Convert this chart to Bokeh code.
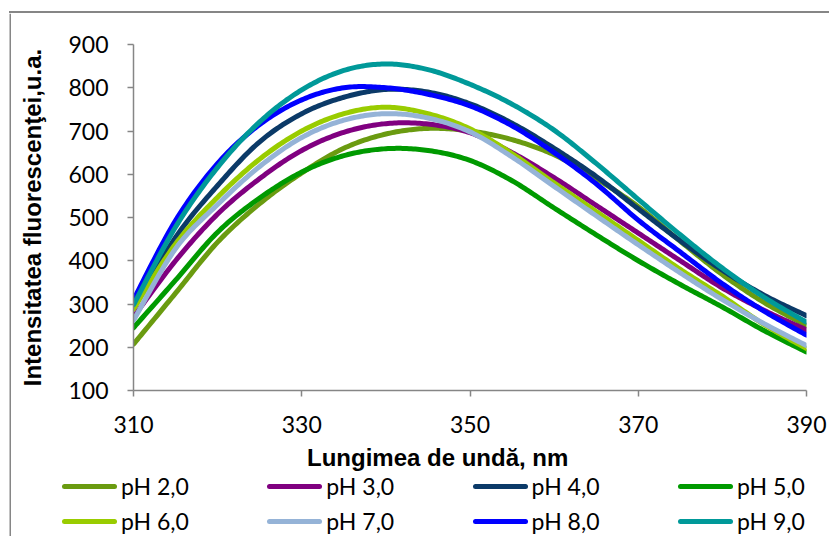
import numpy as np
from bokeh.plotting import figure
from bokeh.models import Range1d, FixedTicker, Div
from bokeh.layouts import column, row
from bokeh.embed import file_html
from bokeh.resources import INLINE

# wavelengths (nm)
wavelength = [310, 315, 320, 325, 330, 335, 340, 345, 350, 355, 360, 365, 370, 375, 380, 385, 390]

ph_2 = [207, 325, 443, 532, 603, 660, 693, 706, 700, 680, 645, 590, 525, 445, 368, 303, 250]
ph_3 = [270, 400, 508, 590, 655, 697, 717, 716, 696, 650, 592, 528, 464, 400, 337, 285, 240]
ph_4 = [290, 454, 574, 675, 740, 778, 796, 790, 763, 718, 660, 595, 520, 446, 378, 320, 273]
ph_5 = [245, 355, 466, 545, 605, 643, 659, 655, 632, 585, 522, 460, 400, 345, 293, 238, 189]
ph_6 = [288, 439, 547, 635, 700, 740, 755, 740, 705, 648, 580, 514, 447, 380, 318, 252, 197]
ph_7 = [262, 428, 530, 618, 685, 725, 740, 730, 698, 640, 572, 504, 437, 372, 310, 254, 204]
ph_8 = [310, 493, 625, 715, 772, 800, 800, 785, 758, 712, 650, 578, 494, 420, 347, 283, 228]
ph_9 = [298, 478, 616, 721, 795, 840, 855, 842, 808, 762, 702, 625, 542, 460, 383, 315, 258]

labels = ["pH 2,0", "pH 3,0", "pH 4,0", "pH 5,0", "pH 6,0", "pH 7,0", "pH 8,0", "pH 9,0"]
series = [ph_2, ph_3, ph_4, ph_5, ph_6, ph_7, ph_8, ph_9]
colors = ["#6A9B10", "#800080", "#0B3A68", "#009A00", "#99CC00", "#95B3D7", "#0000FF", "#009999"]

x_ticks = [310, 330, 350, 370, 390]
y_ticks = [100, 200, 300, 400, 500, 600, 700, 800, 900]

x_title = "Lungimea de undă, nm"
y_title = "Intensitatea fluorescenţei,u.a."


def smooth(xs, ys, n=20):
    """Catmull-Rom smoothing (like a spreadsheet 'smoothed line')."""
    xs = np.asarray(xs, float)
    ys = np.asarray(ys, float)
    m = len(xs)
    ox, oy = [], []
    for i in range(m - 1):
        i0, i1, i2, i3 = max(i - 1, 0), i, i + 1, min(i + 2, m - 1)
        for t in np.linspace(0, 1, n, endpoint=False):
            t2, t3 = t * t, t * t * t

            def cr(a0, a1, a2, a3):
                return 0.5 * ((2 * a1) + (-a0 + a2) * t + (2 * a0 - 5 * a1 + 4 * a2 - a3) * t2
                              + (-a0 + 3 * a1 - 3 * a2 + a3) * t3)
            ox.append(cr(xs[i0], xs[i1], xs[i2], xs[i3]))
            oy.append(cr(ys[i0], ys[i1], ys[i2], ys[i3]))
    ox.append(xs[-1])
    oy.append(ys[-1])
    return ox, oy


AX = "#868686"
W = 829
TOP_H, LEFT_W = 13, 11
MAIN_H, LEG_H = 430, 93

# ---- top edge of the chart-area border
top = Div(width=W, height=TOP_H, margin=0,
          text=(f'<div style="position:relative;width:{W}px;height:{TOP_H}px;">'
                f'<div style="position:absolute;left:9px;top:11px;width:{W - 9}px;height:2px;'
                f'background:{AX};"></div></div>'))

# ---- left edge of the chart-area border
left = figure(width=LEFT_W, height=MAIN_H + LEG_H, output_backend="svg", toolbar_location=None,
              x_range=Range1d(0, LEFT_W), y_range=Range1d(0, MAIN_H + LEG_H),
              x_axis_location=None, y_axis_location=None,
              min_border=0, min_border_left=0, min_border_right=0,
              min_border_top=0, min_border_bottom=0)
left.outline_line_color = None
left.xgrid.visible = False
left.ygrid.visible = False
left.segment(x0=[LEFT_W - 1], y0=[0], x1=[LEFT_W - 1], y1=[MAIN_H + LEG_H],
             line_color=AX, line_width=2)

# ---- main plot
p = figure(width=W - LEFT_W, height=MAIN_H, output_backend="svg", toolbar_location=None,
           x_range=Range1d(310, 390), y_range=Range1d(100, 900),
           min_border_left=122, min_border_right=23, min_border_top=31, min_border_bottom=53)
p.outline_line_color = None
p.background_fill_color = "white"
p.border_fill_color = "white"
p.xgrid.visible = False
p.ygrid.visible = False

for ax in (p.xaxis[0], p.yaxis[0]):
    ax.axis_line_color = AX
    ax.axis_line_width = 1.5
    ax.major_tick_line_color = AX
    ax.major_tick_line_width = 1.5
    ax.major_tick_in = 0
    ax.major_tick_out = 6
    ax.minor_tick_line_color = None
    ax.major_label_text_font = "Lato"
    ax.major_label_text_font_size = "23px"
    ax.major_label_text_color = "black"
    ax.axis_label_text_font = "Liberation Sans"
    ax.axis_label_text_font_style = "bold"
    ax.axis_label_text_font_size = "24px"
    ax.axis_label_text_color = "black"

p.xaxis.ticker = FixedTicker(ticks=x_ticks)
p.yaxis.ticker = FixedTicker(ticks=y_ticks)
p.yaxis.axis_label = y_title
p.xaxis.major_label_standoff = 19
p.yaxis.major_label_standoff = 19
p.yaxis.axis_label_standoff = 19

for ys, col in zip(series, colors):
    sx, sy = smooth(wavelength, ys)
    p.line(sx, sy, line_color=col, line_width=5, line_cap="round", line_join="round")

# ---- bottom area: x-axis title and legend (two rows of four entries)
parts = [f'<div style="position:relative;width:{W - LEFT_W}px;height:{LEG_H}px;overflow:hidden;'
         f'color:black;">',
         f'<div style="position:absolute;left:296px;top:3px;white-space:nowrap;'
         f'font-family:\'Liberation Sans\';font-weight:bold;font-size:24px;line-height:24px;">'
         f'{x_title}</div>']
for i, (lab, col) in enumerate(zip(labels, colors)):
    c, r = i % 4, i // 4
    x0 = 51 + c * 205.3
    yc = 43.7 + r * 35
    parts.append(f'<div style="position:absolute;left:{x0:.1f}px;top:{yc - 2.5:.1f}px;width:55px;'
                 f'height:5px;border-radius:2.5px;background:{col};"></div>')
    parts.append(f'<div style="position:absolute;left:{x0 + 59:.1f}px;top:{yc - 14.6:.1f}px;'
                 f'white-space:nowrap;font-family:Lato;font-size:23px;line-height:28px;">{lab}</div>')
parts.append('</div>')
bottom = Div(width=W - LEFT_W, height=LEG_H, margin=0, text="".join(parts))

layout = column(top, row(left, column(p, bottom, spacing=0), spacing=0), spacing=0)
open("out.html", "w").write(file_html(layout, INLINE))
